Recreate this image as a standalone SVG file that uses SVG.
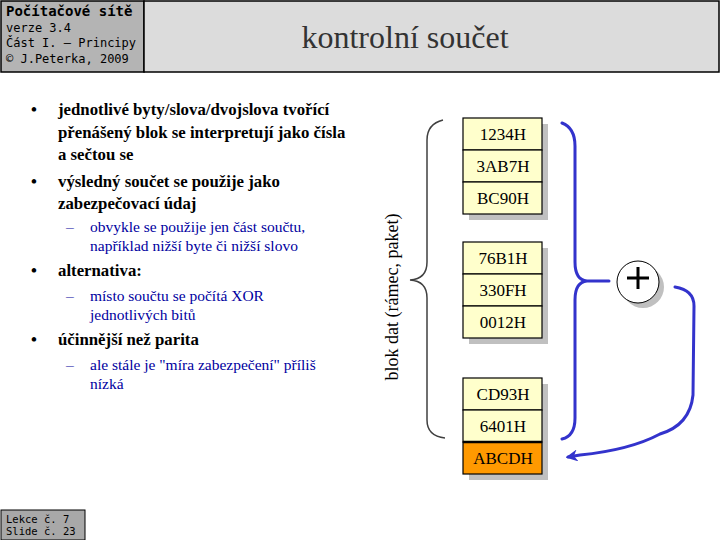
<svg xmlns="http://www.w3.org/2000/svg" width="720" height="540" viewBox="0 0 720 540">
<defs>
<style>
.mono{font-family:"DejaVu Sans Mono","Liberation Mono",monospace;fill:#000}
.serif{font-family:"Liberation Serif","DejaVu Serif","Noto Serif",serif}
.body{font-size:16.8px;fill:#000;font-weight:bold}
.sub{font-size:15.5px;fill:#0000a0}
.cell{fill:#ffffcc;stroke:#000;stroke-width:1.2}
.shadow{fill:#c0c0c0}
.ct{font-size:17px;text-anchor:middle;fill:#000}
.blue{fill:none;stroke:#3333cc;stroke-width:3;stroke-linecap:round}
</style>
<marker id="ah" viewBox="0 0 10 10" refX="8" refY="5" markerWidth="4" markerHeight="4" orient="auto">
<path d="M0,0 L10,5 L0,10 L3,5 z" fill="#3333cc"/>
</marker>
</defs>
<rect width="720" height="540" fill="#fff"/>
<g id="header">
<rect x="1" y="1" width="143" height="71" fill="#b4b4b4" stroke="#000" stroke-width="1.5"/>
<rect x="144" y="1" width="575" height="71" fill="#dcdcdc" stroke="#000" stroke-width="1.5"/>
<text class="mono" x="6" y="16" font-size="14" font-weight="bold">Počítačové sítě</text>
<text class="mono" x="6" y="32" font-size="12">verze 3.4</text>
<text class="mono" x="6" y="47" font-size="12">Část I. – Principy</text>
<text class="mono" x="6" y="63" font-size="12">© J.Peterka, 2009</text>
<text class="serif" x="405" y="48" text-anchor="middle" font-size="32" fill="#333">kontrolní  součet</text>
</g>
<g id="footer">
<rect x="1" y="510" width="84" height="30" fill="#a8a8a8" stroke="#000" stroke-width="1"/>
<text class="mono" x="6" y="523" font-size="10.5">Lekce č. 7</text>
<text class="mono" x="6" y="535" font-size="10.5">Slide č. 23</text>
</g>
<g id="bullets" class="serif">
<text class="body" x="31" y="115">•</text>
<text class="body" x="58" y="115">jednotlivé byty/slova/dvojslova tvořící</text>
<text class="body" x="58" y="138">přenášený blok se interpretují jako čísla</text>
<text class="body" x="58" y="160">a sečtou se</text>
<text class="body" x="31" y="187">•</text>
<text class="body" x="58" y="187">výsledný součet se použije jako</text>
<text class="body" x="58" y="209">zabezpečovací údaj</text>
<text class="sub" x="66" y="232">–</text>
<text class="sub" x="90" y="232">obvykle se použije jen část součtu,</text>
<text class="sub" x="90" y="251">například nižší byte či nižší  slovo</text>
<text class="body" x="31" y="276">•</text>
<text class="body" x="58" y="276">alternativa:</text>
<text class="sub" x="66" y="301">–</text>
<text class="sub" x="90" y="301">místo součtu se počítá XOR</text>
<text class="sub" x="90" y="320">jednotlivých bitů</text>
<text class="body" x="31" y="345">•</text>
<text class="body" x="58" y="345">účinnější než parita</text>
<text class="sub" x="66" y="370">–</text>
<text class="sub" x="90" y="370">ale stále je "míra  zabezpečení"  příliš</text>
<text class="sub" x="90" y="389">nízká</text>
</g>
<g id="brace">
<path d="M443,120 Q427,124 427,140 L427,262 Q427,279 410,280 Q427,281 427,298 L427,420 Q427,436 445,438" fill="none" stroke="#404040" stroke-width="1.5"/>
<text class="serif" transform="translate(398,297) rotate(-90)" text-anchor="middle" font-size="18" fill="#000">blok dat (rámec, paket)</text>
</g>
<g id="block1" class="serif">
<rect class="shadow" x="469" y="124" width="79" height="96"/>
<rect class="cell" x="463" y="118" width="79" height="32"/>
<rect class="cell" x="463" y="150" width="79" height="32"/>
<rect class="cell" x="463" y="182" width="79" height="32"/>
<text class="ct" x="503" y="140">1234H</text>
<text class="ct" x="503" y="172">3AB7H</text>
<text class="ct" x="503" y="204">BC90H</text>
</g>
<g id="block2" class="serif">
<rect class="shadow" x="469" y="248" width="79" height="96"/>
<rect class="cell" x="463" y="242" width="79" height="32"/>
<rect class="cell" x="463" y="274" width="79" height="32"/>
<rect class="cell" x="463" y="306" width="79" height="32"/>
<text class="ct" x="503" y="264">76B1H</text>
<text class="ct" x="503" y="296">330FH</text>
<text class="ct" x="503" y="328">0012H</text>
</g>
<g id="block3" class="serif">
<rect class="shadow" x="469" y="384" width="79" height="96"/>
<rect class="cell" x="463" y="378" width="79" height="32"/>
<rect class="cell" x="463" y="410" width="79" height="32"/>
<rect x="463" y="442" width="79" height="32" fill="#ff9900" stroke="#000" stroke-width="1.2"/>
<line x1="463" y1="442" x2="542" y2="442" stroke="#000" stroke-width="2.5"/>
<text class="ct" x="503" y="400">CD93H</text>
<text class="ct" x="503" y="432">6401H</text>
<text class="ct" x="503" y="464">ABCDH</text>
</g>
<g id="sum">
<circle cx="643" cy="287" r="21" fill="#c0c0c0"/>
<circle cx="638" cy="282" r="21" fill="#fff" stroke="#000" stroke-width="1"/>
<path d="M627,278 H649 M638,267 V289" stroke="#000" stroke-width="3"/>
</g>
<g id="connectors">
<path class="blue" d="M562,123 Q575,128 575,146 L575,262 Q575,280 587,281 L609,281 M587,281 Q575,282 575,300 L575,418 Q575,436 562,439"/>
<path class="blue" d="M675,287 Q694,290 694,306 L693,395 Q690,425 660,434 Q630,450 580,455 L568,457" marker-end="url(#ah)"/>
</g>
</svg>
